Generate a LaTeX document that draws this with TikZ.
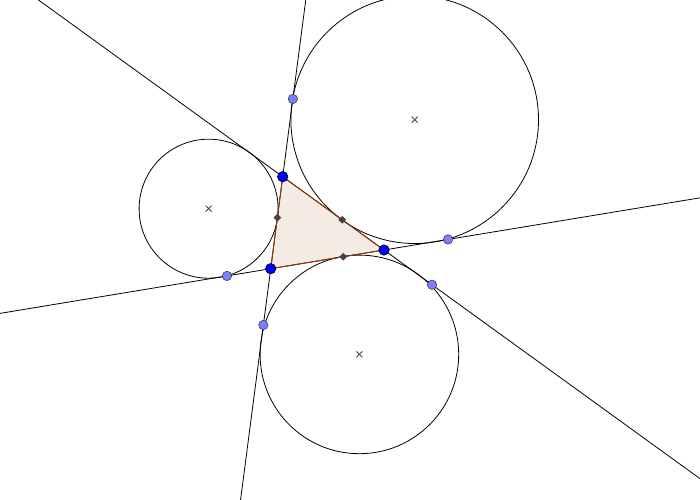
\documentclass[tikz,border=0pt]{standalone}
\usetikzlibrary{calc,shapes.geometric}
\definecolor{polyedge}{RGB}{153,51,0}
\definecolor{polyfill}{RGB}{245,235,229}
\definecolor{freept}{RGB}{0,0,255}
\definecolor{onpt}{RGB}{125,125,255}
\definecolor{markgray}{RGB}{68,68,68}
\tikzset{
  geoline/.style={line width=0.8pt, black},
  excircle/.style={line width=0.8pt, black},
  freepoint/.style={circle, draw=black, line width=0.6pt, fill=freept, minimum size=10.5pt, inner sep=0pt},
  onpoint/.style={circle, draw=black!80, line width=0.5pt, fill=onpt, minimum size=9.5pt, inner sep=0pt},
  contact/.style={diamond, fill=markgray, minimum size=8pt, inner sep=0pt},
  centermark/.style={markgray, line width=0.9pt}
}
\begin{document}
\begin{tikzpicture}[x=1bp,y=-1bp]
\useasboundingbox (0,0) rectangle (700,500);
\coordinate (A) at (282.7,176.7);
\coordinate (B) at (270.7,268.7);
\coordinate (C) at (384,250);
\coordinate (IA) at (359.4,354.4);
\coordinate (IB) at (414.7,119.7);
\coordinate (IC) at (208.6,208.7);
% triangle
\fill[polyfill] (A) -- (B) -- (C) -- cycle;
\begin{scope}
\clip (0,0) rectangle (700,500);
% side lines
\draw[geoline] ($(A)!-5!(B)$) -- ($(A)!5!(B)$);
\draw[geoline] ($(A)!-5!(C)$) -- ($(A)!5!(C)$);
\draw[geoline] ($(B)!-5!(C)$) -- ($(B)!5!(C)$);
% excircles
\draw[excircle] (IA) circle[radius=99.3];
\draw[excircle] (IB) circle[radius=123.8];
\draw[excircle] (IC) circle[radius=69.5];
\end{scope}
\draw[polyedge, line width=0.9pt] (A) -- (B) -- (C) -- cycle;
% centre marks
\foreach \c in {IA,IB,IC}{
  \draw[centermark] ($(\c)+(-3,-3)$) -- ($(\c)+(3,3)$);
  \draw[centermark] ($(\c)+(-3,3)$) -- ($(\c)+(3,-3)$);
}
% contact points on sides
\node[contact] (DAB) at ($(A)!0.445!(B)$) {};
\node[contact] (DAC) at ($(A)!0.588!(C)$) {};
\node[contact] (DBC) at ($(B)!0.6405!(C)$) {};
% points on lines
\node[onpoint] (P1) at ($(A)!-0.845!(B)$) {};
\node[onpoint] (P3) at ($(A)!1.612!(B)$) {};
\node[onpoint] (P2) at ($(B)!-0.386!(C)$) {};
\node[onpoint] (P4) at ($(B)!1.565!(C)$) {};
\node[onpoint] (P5) at ($(A)!1.474!(C)$) {};
% vertices
\node[freepoint] (nA) at (A) {};
\node[freepoint] (nB) at (B) {};
\node[freepoint] (nC) at (C) {};
\end{tikzpicture}
\end{document}
